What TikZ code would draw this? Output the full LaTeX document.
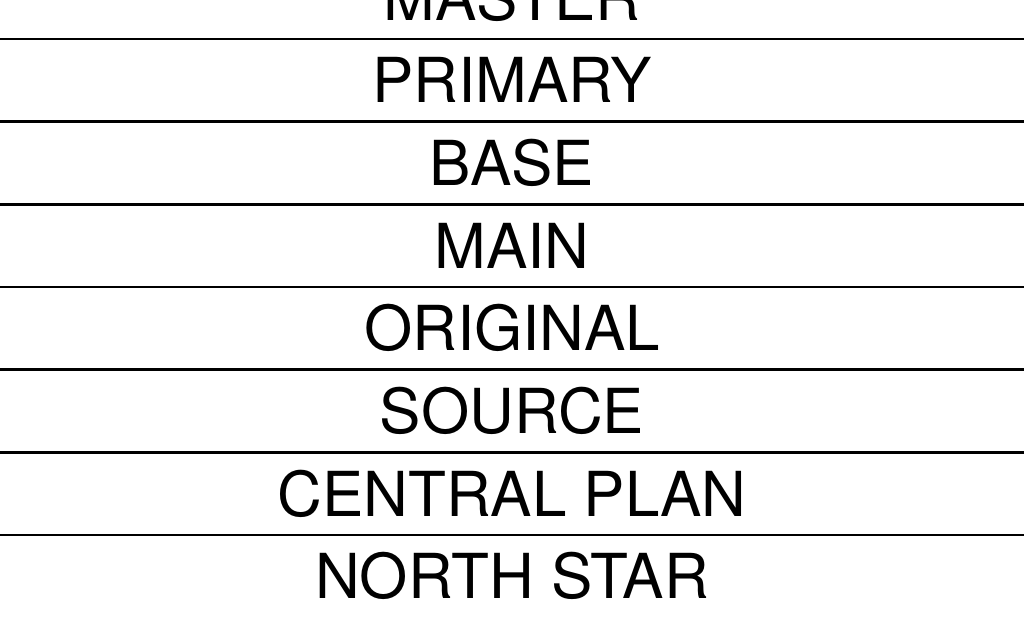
\documentclass[tikz,border=0pt]{standalone}
\usepackage{fontspec}
\setmainfont{TeX Gyre Heros}
\usepackage{tikz}

\begin{document}
\begin{tikzpicture}[x=0.75pt,y=-0.75pt]

\useasboundingbox (0,0) rectangle (1024,623);
\clip (0,0) rectangle (1024,623);

\foreach \i/\w in {0/MASTER,1/PRIMARY,2/BASE,3/MAIN,4/ORIGINAL,5/SOURCE,6/CENTRAL PLAN,7/NORTH STAR}
{
\node[anchor=base,inner sep=0pt,font=\fontsize{46.5}{50}\selectfont] (w\i) at (512,{-2.3+82.67*\i+22.5}) {\w};
}

\foreach \i in {0,1,...,6}
{
\coordinate (l\i) at (0,{39+82.67*\i});
\coordinate (r\i) at (1024,{39+82.67*\i});
\draw[line width=2.2pt] (l\i)--(r\i);
}

\end{tikzpicture}
\end{document}
